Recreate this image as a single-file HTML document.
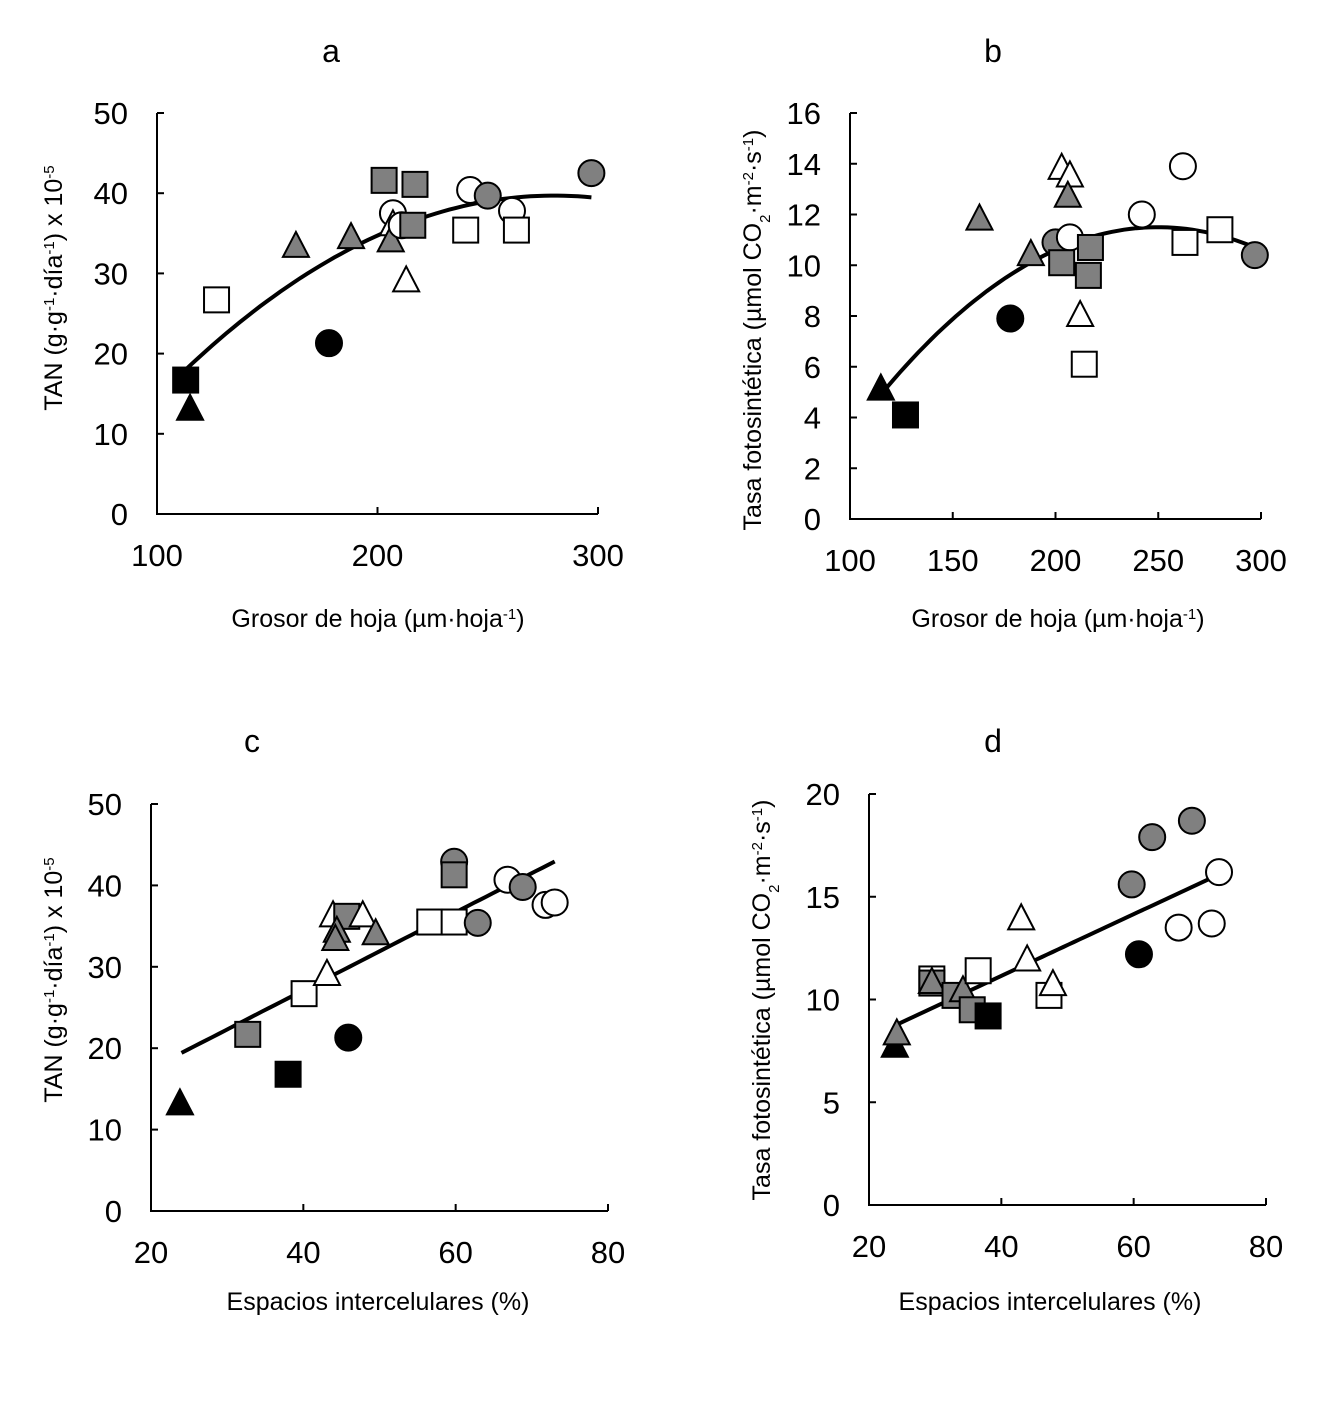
<!DOCTYPE html>
<html><head><meta charset="utf-8"><style>
html,body{margin:0;padding:0;background:#fff;}
svg text{font-family:"Liberation Sans",Arial,sans-serif;fill:#000;}
</style></head><body>
<svg id="fig" width="1331" height="1417" viewBox="0 0 1331 1417" xmlns="http://www.w3.org/2000/svg"></svg>
<script>
// Panel a data
const aX = [113,115,127,163,178,188,203,217,207,207,206,211,216,213,242,250,261,240,263,297];
const aY = [16.7,13,26.7,33.3,21.3,34.4,41.6,41.1,37.5,36,34,36,36,29,40.4,39.7,37.8,35.4,35.4,42.5];
const aShape = ['s','t','s','t','c','t','s','s','c','t','t','c','s','t','c','c','c','s','s','c'];
const aFill = ['k','k','w','g','k','g','g','g','w','w','g','w','g','w','w','g','w','w','w','g'];
const aFit = [39.7, 280, 0.000778, 113, 297]; // vertex y, vertex x, k, xmin, xmax
// Panel b data
const bX = [115,127,163,178,188,200,207,203,203,207,206,217,216,212,214,242,262,263,280,297];
const bY = [5.1,4.1,11.8,7.9,10.4,10.9,11.1,10.1,13.8,13.5,12.7,10.7,9.6,8.0,6.1,12.0,13.9,10.9,11.4,10.4];
const bShape = ['t','s','t','c','t','c','c','s','t','t','t','s','s','t','s','c','c','s','s','c'];
const bFill = ['k','k','g','k','g','g','w','g','w','w','g','g','g','w','w','w','w','w','w','g'];
const bFit = [11.5, 250, 0.000362, 115, 297];
// Panel c data
const cX = [23.8,32.7,38,45.9,40.1,43.1,43.9,45.7,44.4,44.2,47.8,49.5,56.6,59.8,59.8,59.8,62.9,66.8,68.8,71.8,73];
const cY = [13.1,21.7,16.8,21.3,26.7,29,36.2,36.2,34.3,33.3,36.2,34,35.5,35.5,42.9,41.3,35.4,40.7,39.8,37.6,37.9];
const cShape = ['t','s','s','c','s','t','t','s','t','t','t','t','s','s','c','s','c','c','c','c','c'];
const cFill = ['k','g','k','k','w','w','w','g','g','g','w','g','w','w','g','g','g','w','g','w','w'];
const cFit = [0.48, 7.9, 24, 73]; // slope, intercept, xmin, xmax
// Panel d data
const dX = [23.9,24.2,29.5,29.5,29.5,33,34.2,35.6,38,36.5,43,43.9,47.2,47.8,59.7,60.8,62.8,66.8,68.8,71.8,72.9];
const dY = [7.7,8.3,11,10.8,10.8,10.2,10.4,9.5,9.2,11.4,13.9,11.9,10.2,10.7,15.6,12.2,17.9,13.5,18.7,13.7,16.2];
const dShape = ['t','t','s','s','t','s','t','s','s','s','t','t','s','t','c','c','c','c','c','c','c'];
const dFill = ['k','g','w','g','g','g','g','g','k','w','w','w','w','w','g','k','g','w','g','w','w'];
const dFit = [0.15, 5.15, 24.3, 72.8];

const aXt=[100,200,300], aYt=[0,10,20,30,40,50];
const bXt=[100,150,200,250,300], bYt=[0,2,4,6,8,10,12,14,16];
const cXt=[20,40,60,80], cYt=[0,10,20,30,40,50];
const dXt=[20,40,60,80], dYt=[0,5,10,15,20];

const NS='http://www.w3.org/2000/svg';
const svg=document.getElementById('fig');
function mk(tag,attrs,parent){const e=document.createElementNS(NS,tag);for(const k in attrs)e.setAttribute(k,attrs[k]);(parent||svg).appendChild(e);return e;}
const FILL={k:'#000',g:'#808080',w:'#fff'};

function panel(p){
  const g=mk('g',{});
  
  
  const sx=v=>p.x0+(v-p.xmin)/(p.xmax-p.xmin)*(p.x1-p.x0);
  const sy=v=>p.y0-(v-p.ymin)/(p.ymax-p.ymin)*(p.y0-p.y1);
  const ax=mk('path',{d:`M${p.x0},${sy(p.ymax)} L${p.x0},${p.y0} L${sx(p.xmax)},${p.y0}`,fill:'none',stroke:'#000','stroke-width':2},g);
  
  
  p.yt.forEach(v=>{
    mk('line',{x1:p.x0,x2:p.x0+7,y1:sy(v),y2:sy(v),stroke:'#000','stroke-width':2},g);
    const t=mk('text',{x:p.x0-29,y:sy(v)+11,'text-anchor':'end','font-size':31},g);
    t.textContent=v;
    
    
  });
  p.xt.forEach(v=>{
    mk('line',{x1:sx(v),x2:sx(v),y1:p.y0,y2:p.y0-7,stroke:'#000','stroke-width':2},g);
    const t=mk('text',{x:sx(v),y:p.y0+52,'text-anchor':'middle','font-size':31},g);
    t.textContent=v;
    
    
  });
  let d='';
  const n=60;
  for(let i=0;i<=n;i++){
    const xv=p.fit.xmin+(p.fit.xmax-p.fit.xmin)*i/n;
    d+=(i?'L':'M')+sx(xv).toFixed(1)+','+sy(p.fit.f(xv)).toFixed(1);
  }
  const fl=mk('path',{d:d,fill:'none',stroke:'#000','stroke-width':4},g);
  
  
  p.X.forEach((xv,i)=>{
    const cx=sx(xv), cy=sy(p.Y[i]), sh=p.S[i], f=FILL[p.F[i]];
    let e;
    if(sh==='c') e=mk('circle',{cx:cx,cy:cy,r:13,fill:f,stroke:'#000','stroke-width':2},g);
    else if(sh==='s') e=mk('rect',{x:cx-12.5,y:cy-12.5,width:25,height:25,fill:f,stroke:'#000','stroke-width':2},g);
    else e=mk('polygon',{points:`${cx},${cy-15} ${cx-13},${cy+10} ${cx+13},${cy+10}`,fill:f,stroke:'#000','stroke-width':2},g);
    
    
  });
  const tt=mk('text',{x:p.title[1],y:p.title[2],'text-anchor':'middle','font-size':32},g);
  tt.textContent=p.title[0];
  
  
  const xl=mk('text',{x:p.xl[1],y:p.xl[2],'text-anchor':'middle','font-size':25},g);
  xl.innerHTML=p.xl[0];
  
  
  const yl=mk('text',{x:0,y:0,'text-anchor':'middle','font-size':25,transform:`translate(${p.yl[1]},${p.yl[2]}) rotate(-90)`},g);
  yl.innerHTML=p.yl[0];
  
  
}
const sup=s=>`<tspan font-size="15" baseline-shift="super">${s}</tspan>`;
const sub=s=>`<tspan font-size="15" baseline-shift="sub">${s}</tspan>`;
const xlA=`Grosor de hoja (µm·hoja${sup('-1')})`;
const ylTAN=`TAN (g·g${sup('-1')}·día${sup('-1')}) x 10${sup('-5')}`;
const ylTasa=`Tasa fotosintética (µmol CO${sub('2')}·m${sup('-2')}·s${sup('-1')})`;
const xlE='Espacios intercelulares (%)';

panel({id:'a',X:aX,Y:aY,S:aShape,F:aFill,xt:aXt,yt:aYt,x0:157,x1:598,y0:514,y1:113,xmin:100,xmax:300,ymin:0,ymax:50,
  fit:{xmin:aFit[3],xmax:aFit[4],f:x=>aFit[0]-aFit[2]*(x-aFit[1])*(x-aFit[1])},
  title:['a',331,62],xl:[xlA,378,627],yl:[ylTAN,62,288]});
panel({id:'b',X:bX,Y:bY,S:bShape,F:bFill,xt:bXt,yt:bYt,x0:850,x1:1261,y0:519,y1:113,xmin:100,xmax:300,ymin:0,ymax:16,
  fit:{xmin:bFit[3],xmax:bFit[4],f:x=>bFit[0]-bFit[2]*(x-bFit[1])*(x-bFit[1])},
  title:['b',993,62],xl:[xlA,1058,627],yl:[ylTasa,761,330]});
panel({id:'c',X:cX,Y:cY,S:cShape,F:cFill,xt:cXt,yt:cYt,x0:151,x1:608,y0:1211,y1:804,xmin:20,xmax:80,ymin:0,ymax:50,
  fit:{xmin:cFit[2],xmax:cFit[3],f:x=>cFit[0]*x+cFit[1]},
  title:['c',252,752],xl:[xlE,378,1310],yl:[ylTAN,62,980]});
panel({id:'d',X:dX,Y:dY,S:dShape,F:dFill,xt:dXt,yt:dYt,x0:869,x1:1266,y0:1205,y1:794,xmin:20,xmax:80,ymin:0,ymax:20,
  fit:{xmin:dFit[2],xmax:dFit[3],f:x=>dFit[0]*x+dFit[1]},
  title:['d',993,752],xl:[xlE,1050,1310],yl:[ylTasa,770,1000]});
</script>
</body></html>
